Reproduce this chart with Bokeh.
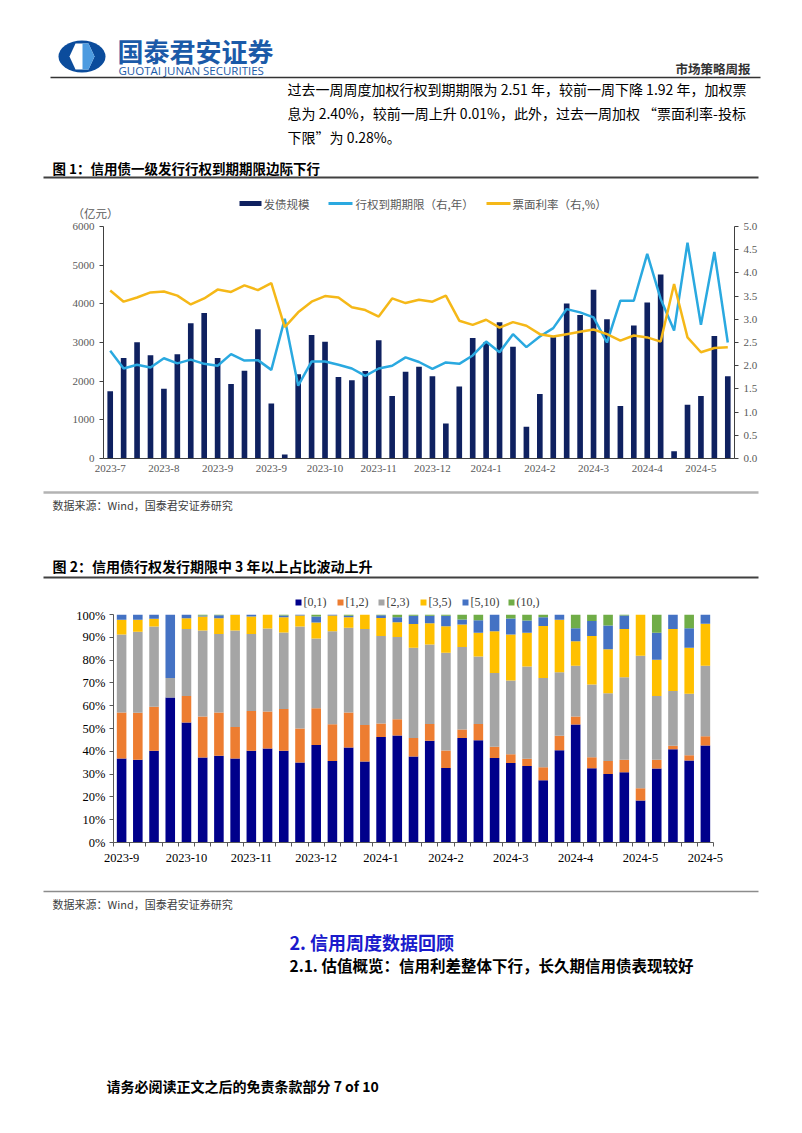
from bokeh.plotting import figure
from bokeh.models import Range1d, LinearAxis, FixedTicker, PrintfTickFormatter, ColumnDataSource
from bokeh.layouts import column
from bokeh.core.properties import value
from bokeh.embed import file_html
from bokeh.resources import INLINE

# ---------------- data: chart 1 ----------------
c1_ticks = [0, 4, 8, 12, 16, 20, 24, 28, 32, 36, 40, 44]
c1_tick_labels = ["2023-7", "2023-8", "2023-9", "2023-9", "2023-10", "2023-11",
                  "2023-12", "2024-1", "2024-2", "2024-3", "2024-4", "2024-5"]
issue_size = [1740, 2600, 3005, 2668, 1805, 2694, 3497, 3765, 2600, 1926,
              2271, 3342, 1425, 104, 2176, 3195, 3022, 2107, 2021, 2263,
              3057, 1615, 2245, 2375, 2124, 907, 1865, 3117, 3005, 3523,
              2893, 820, 1667, 3135, 4007, 3713, 4361, 3601, 1356, 3437,
              4033, 4758, 190, 1390, 1615, 3169, 2124]
maturity = [2.32, 1.94, 2.02, 1.96, 2.16, 2.05, 2.13, 2.04, 2.00, 2.25,
            2.11, 2.12, 1.91, 3.01, 1.57, 2.09, 2.09, 2.02, 1.94, 1.78,
            1.94, 2.00, 2.18, 2.08, 1.93, 2.07, 2.04, 2.22, 2.52, 2.29,
            2.68, 2.40, 2.63, 2.81, 3.22, 3.15, 3.04, 2.50, 3.40, 3.40,
            4.41, 3.44, 2.76, 4.65, 2.88, 4.45, 2.50]
coupon = [3.62, 3.38, 3.47, 3.58, 3.60, 3.51, 3.32, 3.45, 3.64, 3.59,
          3.73, 3.63, 3.78, 2.83, 3.15, 3.38, 3.50, 3.47, 3.26, 3.20,
          3.06, 3.45, 3.35, 3.42, 3.38, 3.51, 2.97, 2.88, 2.99, 2.82,
          2.94, 2.86, 2.68, 2.63, 2.68, 2.73, 2.78, 2.68, 2.54, 2.65,
          2.61, 2.52, 3.76, 2.61, 2.29, 2.38, 2.40]
c1_series_names = ["发债规模", "行权到期期限（右,年）", "票面利率（右,%）"]

# ---------------- data: chart 2 ----------------
c2_ticks = [0, 4, 8, 12, 16, 20, 24, 28, 32, 36]
c2_tick_labels = ["2023-9", "2023-10", "2023-11", "2023-12", "2024-1",
                  "2024-2", "2024-3", "2024-4", "2024-5", "2024-5"]
c2_series_names = ["[0,1)", "[1,2)", "[2,3)", "[3,5)", "[5,10)", "(10,)"]
s_0_1 = [36.8, 36.3, 40.2, 63.6, 52.6, 37.3, 38.0, 36.8, 40.2, 41.2, 40.2, 35.1, 42.8,
         35.8, 41.7, 35.5, 46.3, 46.9, 37.7, 44.6, 32.7, 45.8, 44.9, 37.1, 34.9, 33.5,
         27.3, 40.5, 51.8, 32.6, 30.0, 30.8, 18.4, 32.5, 40.9, 36.0, 42.5]
s_1_2 = [20.2, 20.6, 19.3, 0.0, 11.7, 18.0, 19.0, 13.9, 17.5, 16.3, 18.3, 14.9, 16.1,
         16.1, 15.3, 16.0, 5.9, 7.2, 8.1, 7.4, 7.7, 3.8, 7.1, 4.9, 3.8, 3.2,
         5.7, 6.3, 3.5, 4.8, 5.7, 5.5, 5.4, 3.8, 1.5, 2.3, 4.1]
s_2_3 = [34.2, 35.5, 35.2, 8.5, 29.3, 37.7, 34.5, 42.3, 33.7, 36.4, 33.6, 44.7, 30.6,
         40.8, 37.2, 42.1, 38.4, 36.0, 39.6, 34.8, 42.8, 36.1, 29.6, 32.3, 32.4, 40.5,
         39.2, 27.9, 22.2, 31.9, 29.8, 36.2, 58.1, 27.9, 24.0, 26.9, 30.9]
s_3_5 = [6.5, 5.3, 3.4, 0.0, 4.8, 6.1, 6.9, 6.9, 7.7, 6.1, 6.7, 4.9, 7.0,
         6.9, 4.6, 6.4, 7.9, 6.5, 10.4, 9.4, 11.7, 9.9, 10.4, 18.4, 20.1, 14.8,
         22.8, 23.0, 10.8, 21.3, 19.3, 21.1, 18.1, 15.9, 27.2, 20.2, 18.4]
s_5_10 = [2.3, 2.3, 1.9, 27.9, 1.6, 0.5, 1.3, 0.1, 0.9, 0.0, 0.8, 0.4, 2.6,
          0.4, 0.6, 0.0, 1.2, 2.2, 3.6, 3.2, 4.5, 2.2, 5.5, 7.3, 7.0, 5.4,
          3.8, 2.3, 5.7, 6.5, 10.4, 6.0, 0.0, 11.9, 6.4, 8.6, 4.1]
s_10p = [0.0, 0.0, 0.0, 0.0, 0.0, 0.4, 0.3, 0.0, 0.0, 0.0, 0.4, 0.0, 0.9,
         0.0, 0.6, 0.0, 0.3, 1.2, 0.6, 0.6, 0.6, 2.2, 2.5, 0.0, 1.8, 2.6,
         1.2, 0.0, 6.0, 2.9, 4.8, 0.4, 0.0, 8.0, 0.0, 6.0, 0.0]

# ---------------- styles ----------------
W = 800
CJK = "Noto Sans CJK SC"
SERIF = "Liberation Serif"
NAVY1 = "#0f2160"
BLUE1 = "#2aa9e0"
YEL1 = "#f5b818"
C2_COLORS = ["#00008b", "#ed7d31", "#a5a5a5", "#ffc000", "#4472c4", "#70ad47"]


def deco(y0, y1):
    p = figure(width=W, height=y1 - y0, output_backend="svg", toolbar_location=None,
               x_range=Range1d(0, W), y_range=Range1d(y1, y0), frame_align=False,
               min_border=0, min_border_left=0, min_border_right=0,
               min_border_top=0, min_border_bottom=0)
    p.xaxis.visible = False
    p.yaxis.visible = False
    p.grid.visible = False
    p.outline_line_color = None
    p.background_fill_color = "white"
    p.border_fill_color = "white"
    return p


def txt(p, x, y, s, size, color="#000000", font=CJK, bold=False, align="left"):
    p.text(x=[x], y=[y], text=[s], text_font=value(font), text_font_size=f"{size}px",
           text_color=color, text_baseline="middle", text_align=align,
           text_font_style="bold" if bold else "normal")


# ---------------- header figure (page y 0..220) ----------------
f1 = deco(0, 220)
f1.ellipse(x=[81.5], y=[56], width=47, height=32, fill_color="#0b4c9c", line_color=None)
f1.patch(x=[69, 75, 88, 94, 88, 75], y=[56, 43, 43, 56, 69, 69],
         fill_color="white", line_color=None)
f1.patch(x=[82, 88, 94, 88, 82], y=[43, 43, 56, 69, 69],
         fill_color="#4d9be0", line_color=None)
txt(f1, 117, 50, "国泰君安证券", 26, "#1b5aa8", bold=True)
txt(f1, 118, 70, "GUOTAI JUNAN SECURITIES", 11.5, "#1b5aa8", font="Open Sans")
txt(f1, 750, 68, "市场策略周报", 12.5, "#333333", bold=True, align="right")
f1.line(x=[50, 760], y=[77, 77], line_color="#333333", line_width=1.5)
txt(f1, 287, 88, "过去一周周度加权行权到期期限为 2.51 年，较前一周下降 1.92 年，加权票", 14)
txt(f1, 287, 112, "息为 2.40%，较前一周上升 0.01%，此外，过去一周加权 “票面利率-投标", 14)
txt(f1, 287, 136, "下限”为 0.28%。", 14)
txt(f1, 52, 167, "图 1：信用债一级发行行权到期期限边际下行", 13.5, "#000000", bold=True)
f1.line(x=[43, 758], y=[177, 177], line_color="#404040", line_width=1.8)
f1.rect(x=[250], y=[203], width=22, height=5, fill_color=NAVY1, line_color=None)
txt(f1, 263, 203, c1_series_names[0], 11.5, "#595959")
f1.line(x=[328, 352], y=[203, 203], line_color=BLUE1, line_width=3)
txt(f1, 355, 203, c1_series_names[1], 11.5, "#595959")
f1.line(x=[486, 510], y=[203, 203], line_color=YEL1, line_width=3)
txt(f1, 512, 203, c1_series_names[2], 11.5, "#595959")
txt(f1, 72, 212, "（亿元）", 11.5, "#595959")

# ---------------- chart 1 (page y 220..488) ----------------
xs1 = list(range(len(issue_size)))
src1 = ColumnDataSource(dict(x=xs1, issue=issue_size, mat=maturity, cpn=coupon))
f2 = figure(width=W, height=268, output_backend="svg", toolbar_location=None, frame_align=False,
            x_range=Range1d(-0.5, len(xs1) - 0.5), y_range=Range1d(0, 6000),
            min_border_left=103, min_border_right=66, min_border_top=6, min_border_bottom=30)
f2.extra_y_ranges = {"r": Range1d(0, 5)}
f2.vbar(x="x", top="issue", width=0.42, source=src1, fill_color=NAVY1, line_color=None)
f2.line(x="x", y="mat", source=src1, line_color=BLUE1, line_width=2.5, y_range_name="r")
f2.line(x="x", y="cpn", source=src1, line_color=YEL1, line_width=2.5, y_range_name="r")
f2.grid.visible = False
f2.outline_line_color = None
f2.xaxis.ticker = FixedTicker(ticks=c1_ticks)
f2.xaxis.major_label_overrides = {t: l for t, l in zip(c1_ticks, c1_tick_labels)}
f2.xaxis.major_tick_line_color = None
f2.xaxis.major_tick_out = 0
f2.xaxis.major_tick_in = 0
f2.xaxis.minor_tick_line_color = None
f2.xaxis.axis_line_color = "#404040"
f2.yaxis.ticker = FixedTicker(ticks=[0, 1000, 2000, 3000, 4000, 5000, 6000])
f2.yaxis.minor_tick_line_color = None
f2.yaxis.major_tick_out = 4
f2.yaxis.major_tick_in = 0
f2.yaxis.axis_line_color = "#404040"
f2.yaxis.major_tick_line_color = "#404040"
raxis = LinearAxis(y_range_name="r", ticker=FixedTicker(ticks=[i * 0.5 for i in range(11)]),
                   formatter=PrintfTickFormatter(format="%.1f"))
raxis.minor_tick_line_color = None
raxis.major_tick_out = 4
raxis.major_tick_in = 0
raxis.axis_line_color = "#404040"
raxis.major_tick_line_color = "#404040"
f2.add_layout(raxis, "right")
for ax in f2.axis:
    ax.major_label_text_font = SERIF
    ax.major_label_text_font_size = "11px"
    ax.major_label_text_color = "#595959"
    ax.major_label_standoff = 5
f2.xaxis.major_label_standoff = 6

# ---------------- middle figure (page y 488..608) ----------------
f3 = deco(488, 608)
f3.line(x=[43, 758], y=[492, 492], line_color="#b3b3b3", line_width=2.5)
txt(f3, 52, 504, "数据来源：Wind，国泰君安证券研究", 11, "#404040")
txt(f3, 52, 565, "图 2：信用债行权发行期限中 3 年以上占比波动上升", 14, "#000000", bold=True)
f3.line(x=[43, 758], y=[577, 577], line_color="#404040", line_width=1.8)
leg_x = [295, 337, 378, 420, 462, 508]
for lx, nm, col in zip(leg_x, c2_series_names, C2_COLORS):
    f3.rect(x=[lx + 3], y=[602], width=6, height=6, fill_color=col, line_color=None)
    txt(f3, lx + 8, 601.5, nm, 12, "#404040", font=SERIF)

# ---------------- chart 2 (page y 608..866) ----------------
xs2 = list(range(len(s_0_1)))
src2 = ColumnDataSource(dict(x=xs2, a=s_0_1, b=s_1_2, c=s_2_3, d=s_3_5, e=s_5_10, f=s_10p))
f4 = figure(width=W, height=258, output_backend="svg", toolbar_location=None, frame_align=False,
            x_range=Range1d(-0.5, len(xs2) - 0.5), y_range=Range1d(0, 100),
            min_border_left=113, min_border_right=87, min_border_top=6, min_border_bottom=24)
f4.vbar_stack(["a", "b", "c", "d", "e", "f"], x="x", width=0.59, source=src2,
              fill_color=C2_COLORS, line_color=None)
f4.grid.visible = False
f4.outline_line_color = None
f4.xaxis.ticker = FixedTicker(ticks=c2_ticks, minor_ticks=[i - 0.5 for i in range(len(xs2) + 1)])
f4.xaxis.major_label_overrides = {t: l for t, l in zip(c2_ticks, c2_tick_labels)}
f4.xaxis.major_tick_line_color = None
f4.xaxis.major_tick_out = 0
f4.xaxis.major_tick_in = 0
f4.xaxis.minor_tick_out = 4
f4.xaxis.minor_tick_in = 0
f4.xaxis.minor_tick_line_color = "#595959"
f4.yaxis.ticker = FixedTicker(ticks=list(range(0, 101, 10)))
f4.yaxis.formatter = PrintfTickFormatter(format="%d%%")
f4.yaxis.minor_tick_line_color = None
f4.yaxis.major_tick_out = 4
f4.yaxis.major_tick_in = 0
f4.yaxis.major_tick_line_color = "#595959"
for ax in f4.axis:
    ax.axis_line_color = "#595959"
    ax.major_label_text_font = SERIF
    ax.major_label_text_font_size = "12.5px"
    ax.major_label_text_color = "#000000"
f4.yaxis.major_label_standoff = 4
f4.xaxis.major_label_standoff = 7

# ---------------- footer figure (page y 866..1130) ----------------
f5 = deco(866, 1130)
f5.line(x=[43, 758], y=[891, 891], line_color="#8c8c8c", line_width=1.5)
txt(f5, 52, 903, "数据来源：Wind，国泰君安证券研究", 11, "#404040")
txt(f5, 289, 941, "2.  信用周度数据回顾", 18, "#1a1acc", bold=True)
txt(f5, 289, 964, "2.1.  估值概览：信用利差整体下行，长久期信用债表现较好", 15.5, "#000000", bold=True)
txt(f5, 106, 1085, "请务必阅读正文之后的免责条款部分 7 of 10", 14, "#000000", bold=True)

page = column(f1, f2, f3, f4, f5, spacing=0)
open("out.html", "w").write(file_html(page, INLINE))
